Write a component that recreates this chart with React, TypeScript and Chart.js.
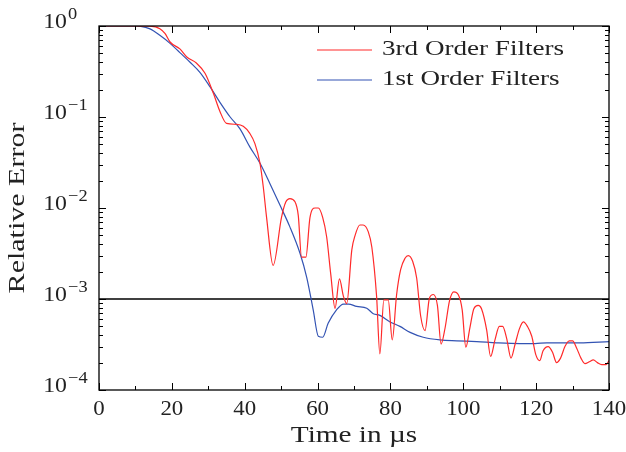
import React, { useEffect, useRef } from 'react';
import { Chart, registerables } from 'chart.js';

Chart.register(...registerables);

// 3rd order filters (red)
const redTime = [0, 10, 14, 16.7, 18.1, 19.5, 22.2, 24.1, 26.8, 29.1, 31.4, 33.2, 35.0, 37.8, 39.6, 41.4, 42.8, 44.2, 45.1, 46.0, 47.8, 50.1, 51.3, 52.4, 53.8, 54.7, 55.6, 56.8, 57.9, 59.3, 60.2, 61.4, 62.5, 63.6, 64.8, 66.0, 67.1, 68.0, 69.4, 70.3, 71.6, 72.5, 73.9, 74.9, 76.2, 77.1, 78.2, 79.4, 80.5, 81.7, 82.8, 84.0, 84.9, 86.1, 87.2, 88.3, 89.5, 90.7, 91.8, 92.9, 93.9, 95.0, 96.2, 97.4, 98.6, 99.7, 100.7, 101.8, 102.9, 104.1, 105.0, 106.4, 107.5, 108.7, 109.9, 110.8, 111.9, 113.1, 114.2, 115.4, 116.5, 117.6, 118.8, 119.9, 121.0, 121.9, 123.3, 124.5, 125.6, 126.7, 127.9, 129.1, 130.0, 131.1, 132.3, 133.4, 134.6, 135.7, 136.8, 138.0, 139.2, 140];
const redError = [1.0, 1.0, 0.995, 0.935, 0.83, 0.667, 0.56, 0.457, 0.389, 0.302, 0.182, 0.115, 0.085, 0.083, 0.079, 0.066, 0.051, 0.031, 0.017, 0.0079, 0.00234, 0.0079, 0.0117, 0.0127, 0.0117, 0.0083, 0.00288, 0.00288, 0.0078, 0.01, 0.01, 0.0079, 0.0048, 0.0019, 0.00079, 0.00166, 0.00107, 0.00089, 0.00347, 0.005, 0.0065, 0.0065, 0.0055, 0.0037, 0.00107, 0.00025, 0.00098, 0.00098, 0.000355, 0.00112, 0.0021, 0.0028, 0.003, 0.0026, 0.0017, 0.00065, 0.00045, 0.00102, 0.00112, 0.00085, 0.00032, 0.00048, 0.00095, 0.0012, 0.00112, 0.00076, 0.000295, 0.00048, 0.00078, 0.00085, 0.00078, 0.00046, 0.000234, 0.000355, 0.0005, 0.0005, 0.00037, 0.000224, 0.000316, 0.00047, 0.00056, 0.0005, 0.00039, 0.000245, 0.00021, 0.00027, 0.0003, 0.00026, 0.0002, 0.000224, 0.0003, 0.000347, 0.000347, 0.00029, 0.000224, 0.000195, 0.000204, 0.000214, 0.0002, 0.00019, 0.00019, 0.00021];

// 1st order filters (blue)
const blueTime = [0, 10, 11, 14, 16.7, 19.5, 22.2, 25, 27.7, 30.5, 33.2, 36, 38.7, 41.4, 44.2, 46.9, 49.7, 52.4, 55.2, 57.0, 58.8, 60.2, 61.4, 62.9, 65.2, 67.1, 68.5, 70.7, 73.5, 75.3, 77.1, 79.9, 82.6, 85.4, 89, 93.6, 98.2, 103.7, 109.2, 115.6, 119.7, 122.9, 132, 140];
const blueError = [1, 1, 0.995, 0.93, 0.79, 0.645, 0.51, 0.4, 0.31, 0.214, 0.145, 0.1, 0.074, 0.047, 0.031, 0.0186, 0.0107, 0.0062, 0.00316, 0.00174, 0.00076, 0.00039, 0.00038, 0.00054, 0.00076, 0.00088, 0.00088, 0.00083, 0.00079, 0.00069, 0.00066, 0.00056, 0.0005, 0.00043, 0.00038, 0.000355, 0.000347, 0.00034, 0.00033, 0.000324, 0.000324, 0.00033, 0.00033, 0.00034];

// threshold line
const thresholdTime = [0, 140];
const thresholdError = [1e-3, 1e-3];

const xTicks = [0, 20, 40, 60, 80, 100, 120, 140];
const xMinorTicks = [10, 30, 50, 70, 90, 110, 130];
const yTicks = [1, 0.1, 0.01, 0.001, 0.0001];
const yTickExponents = ['0', '−1', '−2', '−3', '−4'];
const seriesLabels = ['3rd Order Filters', '1st Order Filters'];
const xTitle = 'Time in µs';
const yTitle = 'Relative Error';

const RED = '#ff2a2a';
const BLUE = '#3353b3';
const FONT = '"Liberation Serif", "DejaVu Serif", serif';
const TXT = '#222';

function stretchText(ctx: CanvasRenderingContext2D, text: string, x: number, y: number, sx: number) {
  ctx.save();
  ctx.translate(x, y);
  ctx.scale(sx, 1);
  ctx.fillText(text, 0, 0);
  ctx.restore();
}

export default function App() {
  const ref = useRef<HTMLCanvasElement>(null);
  useEffect(() => {
    document.body.style.margin = '0';
    const canvas = ref.current!;
    const decorPlugin = {
      id: 'decor',
      afterDraw(chart: any) {
        const ctx = chart.ctx as CanvasRenderingContext2D;
        const { left, right, top, bottom } = chart.chartArea;
        const xs = chart.scales.x;
        const ys = chart.scales.y;
        ctx.save();
        ctx.strokeStyle = '#000';
        ctx.lineWidth = 1;
        ctx.beginPath();
        const major = 7, minor = 4;
        for (const v of xTicks) {
          const p = Math.round(xs.getPixelForValue(v)) + 0.5;
          ctx.moveTo(p, bottom); ctx.lineTo(p, bottom - major);
          ctx.moveTo(p, top); ctx.lineTo(p, top + major);
        }
        for (const v of xMinorTicks) {
          const p = Math.round(xs.getPixelForValue(v)) + 0.5;
          ctx.moveTo(p, bottom); ctx.lineTo(p, bottom - minor);
          ctx.moveTo(p, top); ctx.lineTo(p, top + minor);
        }
        for (let i = 0; i < yTicks.length; i++) {
          const base = yTicks[i];
          for (let m = 1; m <= 9; m++) {
            const val = base * m;
            if (val > 1.0001) break;
            const p = Math.round(ys.getPixelForValue(val)) + 0.5;
            const len = m === 1 ? major : minor;
            ctx.moveTo(left, p); ctx.lineTo(left + len, p);
            ctx.moveTo(right, p); ctx.lineTo(right - len, p);
          }
        }
        ctx.stroke();
        ctx.lineWidth = 1.3;
        ctx.strokeRect(left, top, right - left, bottom - top);

        ctx.fillStyle = TXT;
        // x tick labels
        ctx.font = `22px ${FONT}`;
        ctx.textAlign = 'center';
        ctx.textBaseline = 'top';
        for (const v of xTicks) {
          stretchText(ctx, String(v), xs.getPixelForValue(v), bottom + 8, 1.04);
        }
        // y tick labels
        for (let i = 0; i < yTicks.length; i++) {
          const p = ys.getPixelForValue(yTicks[i]);
          ctx.font = `22px ${FONT}`;
          ctx.textAlign = 'right';
          ctx.textBaseline = 'alphabetic';
          stretchText(ctx, '10', left - 32, p + 2, 1.08);
          ctx.font = `16px ${FONT}`;
          ctx.textAlign = 'left';
          stretchText(ctx, yTickExponents[i], left - 31, p - 7, 1.15);
        }
        // axis titles
        ctx.font = `24px ${FONT}`;
        ctx.textAlign = 'center';
        ctx.textBaseline = 'middle';
        stretchText(ctx, xTitle, (left + right) / 2, 436, 1.22);
        ctx.save();
        ctx.translate(18, (top + bottom) / 2);
        ctx.rotate(-Math.PI / 2);
        stretchText(ctx, yTitle, 0, 0, 1.25);
        ctx.restore();
        // legend
        const colors = [RED, BLUE];
        ctx.font = `21px ${FONT}`;
        ctx.textAlign = 'left';
        ctx.textBaseline = 'middle';
        for (let i = 0; i < seriesLabels.length; i++) {
          const y = 50 + i * 30;
          ctx.strokeStyle = colors[i];
          ctx.lineWidth = 1.2;
          ctx.beginPath();
          ctx.moveTo(317, y); ctx.lineTo(372, y);
          ctx.stroke();
          ctx.fillStyle = TXT;
          stretchText(ctx, seriesLabels[i], 382, y - 1, 1.29);
        }
        ctx.restore();
      },
    };
    const chart = new Chart(canvas, {
      type: 'line',
      data: {
        datasets: [
          {
            label: seriesLabels[0],
            data: redTime.map((t, i) => ({ x: t, y: redError[i] })),
            borderColor: RED,
            borderWidth: 1.2,
            pointRadius: 0,
            cubicInterpolationMode: 'monotone',
          },
          {
            label: seriesLabels[1],
            data: blueTime.map((t, i) => ({ x: t, y: blueError[i] })),
            borderColor: BLUE,
            borderWidth: 1.2,
            pointRadius: 0,
            cubicInterpolationMode: 'monotone',
          },
          {
            label: 'threshold',
            data: thresholdTime.map((t, i) => ({ x: t, y: thresholdError[i] })),
            borderColor: '#000',
            borderWidth: 1.5,
            pointRadius: 0,
          },
        ],
      },
      options: {
        responsive: false,
        animation: false,
        layout: { padding: { left: 0, top: 26, right: 17, bottom: 0 } },
        plugins: { legend: { display: false }, tooltip: { enabled: false } },
        scales: {
          x: {
            type: 'linear',
            min: 0,
            max: 140,
            grid: { display: false, drawTicks: false },
            border: { display: false },
            ticks: { display: false },
            afterFit: (s: any) => { s.height = 62; },
          },
          y: {
            type: 'logarithmic',
            min: 1e-4,
            max: 1,
            grid: { display: false, drawTicks: false },
            border: { display: false },
            ticks: { display: false },
            afterFit: (s: any) => { s.width = 99; },
          },
        },
      },
      plugins: [decorPlugin],
    } as any);
    return () => chart.destroy();
  }, []);
  return <canvas ref={ref} width={626} height={452} style={{ display: 'block' }} />;
}
